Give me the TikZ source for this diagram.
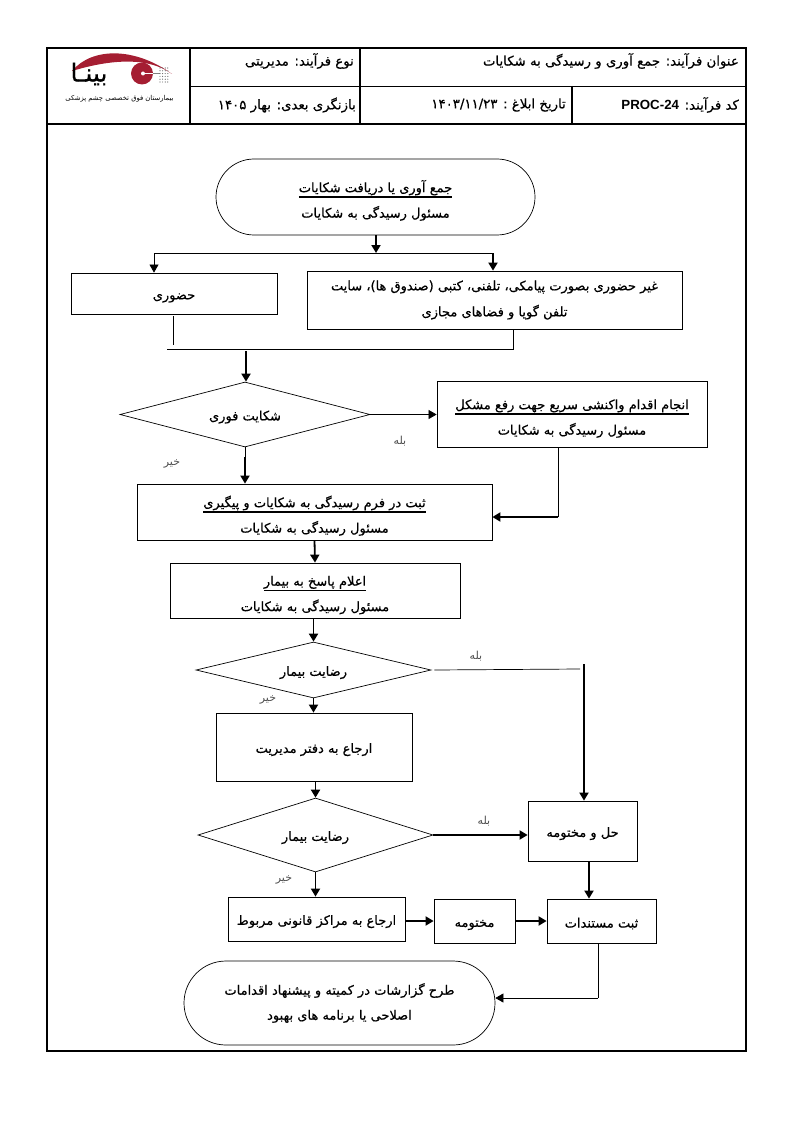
\documentclass[tikz,border=0pt]{standalone}
\usepackage{fontspec}
\usetikzlibrary{arrows.meta,shapes.geometric,shapes.misc}
\setmainfont{Liberation Sans}
\newfontfamily\arabicfont[Script=Arabic,FakeBold=0.5]{DejaVu Sans}
\newfontfamily\arabiclight[Script=Arabic]{DejaVu Sans}
\TeXXeTstate=1
\newcommand{\fa}[1]{{\arabicfont\beginR #1\endR}}
\newcommand{\falight}[1]{{\arabiclight\beginR #1\endR}}
\newcommand{\faul}[1]{\rule{0pt}{19pt}\vtop{\hbox{\fa{#1}}\kern1pt\hrule height 1.6pt}}
\definecolor{logored}{RGB}{165,30,50}
\begin{document}
\begin{tikzpicture}[x=1pt,y=-1pt,
  lowered/.style = {execute at begin node=\rule{0pt}{15pt}},
  cell/.style = {rectangle,draw,line width=.8pt,inner sep=0pt,align=center,lowered,font=\fontsize{13}{15}\selectfont},
  term/.style = {rounded rectangle,draw,line width=.7pt,inner sep=0pt,align=center,lowered,font=\fontsize{13}{15}\selectfont},
  test/.style = {diamond,aspect=4,draw,line width=.7pt,inner sep=0pt,lowered,font=\fontsize{13}{15}\selectfont},
  head/.style = {inner sep=0pt,font=\fontsize{13.3}{15}\selectfont},
  note/.style = {inner sep=0pt,font=\fontsize{11}{13}\selectfont,text=black!70},
  thin link/.style = {line width=.7pt},
  thin arrow/.style = {line width=.7pt,-{Triangle[length=8pt,width=9pt]}},
  thick arrow/.style = {line width=1.8pt,-{Triangle[length=8pt,width=9pt]}}]
\useasboundingbox (0,0) rectangle (794,1123);
% frame and header
\draw[line width=1.5pt] (47,48) rectangle (746,1051);
\draw[line width=1.5pt] (47,124) -- (746,124);
\draw[line width=.9pt] (190,86) -- (746,86);
\draw[line width=1.3pt] (190,48) -- (190,124);
\draw[line width=1.3pt] (360,48) -- (360,124);
\draw[line width=1.3pt] (572,86) -- (572,124);
\node[head,anchor=east] (title) at (739,61) {\fa{عنوان فرآیند: جمع آوری و رسیدگی به شکایات}};
\node[head,anchor=east] (kind) at (354,61) {\fa{نوع فرآیند: مدیریتی}};
\node[head,anchor=east] (review) at (356,105) {\fa{بازنگری بعدی: بهار ۱۴۰۵}};
\node[head,anchor=east] (issue) at (566,105) {\fa{تاریخ ابلاغ : \beginL ۱۴۰۳/۱۱/۲۳\endL}};
\node[head,anchor=east] (code) at (739,105) {\fa{کد فرآیند: \beginL\textbf{\rmfamily PROC-24}\endL}};
% logo
\fill[logored] (72,71) .. controls (92,47) and (135,47) .. (172,74) .. controls (150,58) and (115,58) .. (72,71) -- cycle;
\fill[logored] (142,73.5) circle (11);
\fill[white] (143,73.5) circle (2);
\draw[white,line width=.6pt] (143,73.5) -- (153,73.5);
\draw[black!50,line width=.4pt] (153,73.5) -- (160,73.5);
\foreach \i in {0,1,2,3} \foreach \j in {0,1,2,3,4,5} \fill[black!60] (160+2.6*\i,68+2.8*\j) circle (.6);
\node[inner sep=0pt,font=\fontsize{25}{25}\selectfont] (logoname) at (89,74) {\fa{بینـا}};
\node[inner sep=0pt,font=\fontsize{6.8}{8}\selectfont] (logotext) at (119.5,98.5) {\falight{بیمارستان فوق تخصصی چشم پزشکی}};
% flow
\node[term,minimum width=319pt,minimum height=76pt] (collect) at (375.5,197) {\faul{جمع آوری یا دریافت شکایات}\\[7pt]\fa{مسئول رسیدگی به شکایات}};
\node[cell,minimum width=206pt,minimum height=41pt] (present) at (174,293.5) {\fa{حضوری}};
\node[cell,minimum width=375pt,minimum height=58pt] (absent) at (494.5,300) {\fa{غیر حضوری بصورت پیامکی، تلفنی، کتبی (صندوق ها)، سایت}\\[11pt]\fa{تلفن گویا و فضاهای مجازی}};
\node[test,minimum width=250pt,minimum height=65pt] (urgent) at (245,414.5) {\fa{شکایت فوری}};
\node[cell,minimum width=270pt,minimum height=66pt] (quick) at (572,414) {\faul{انجام اقدام واکنشی سریع جهت رفع مشکل}\\[7pt]\fa{مسئول رسیدگی به شکایات}};
\node[cell,minimum width=355pt,minimum height=56pt] (form) at (314.5,512) {\faul{ثبت در فرم رسیدگی به شکایات و پیگیری}\\[7pt]\fa{مسئول رسیدگی به شکایات}};
\node[cell,minimum width=290pt,minimum height=55pt] (reply) at (315,590.5) {\faul{اعلام پاسخ به بیمار}\\[7pt]\fa{مسئول رسیدگی به شکایات}};
\node[test,minimum width=235pt,minimum height=56pt] (happy) at (313.5,670) {\fa{رضایت بیمار}};
\node[cell,minimum width=196pt,minimum height=68pt] (office) at (314,747) {\fa{ارجاع به دفتر مدیریت}};
\node[test,minimum width=235pt,minimum height=74pt] (happytwo) at (315.5,835) {\fa{رضایت بیمار}};
\node[cell,minimum width=109pt,minimum height=60pt] (solved) at (582.5,831) {\fa{حل و مختومه}};
\node[cell,minimum width=177pt,minimum height=44pt] (legal) at (316.5,919) {\fa{ارجاع به مراکز قانونی مربوط}};
\node[cell,minimum width=81pt,minimum height=44pt] (closed) at (474.5,921) {\fa{مختومه}};
\node[cell,minimum width=109pt,minimum height=44pt] (docs) at (601.5,921) {\fa{ثبت مستندات}};
\node[term,minimum width=311pt,minimum height=84pt] (report) at (339.5,1003) {\fa{طرح گزارشات در کمیته و پیشنهاد اقدامات}\\[10pt]\fa{اصلاحی یا برنامه های بهبود}};
% labels
\node[note] (yesa) at (400,441) {\falight{بله}};
\node[note] (noa) at (172,464) {\falight{خیر}};
\node[note] (yesb) at (476,656) {\falight{بله}};
\node[note] (nob) at (268,700) {\falight{خیر}};
\node[note] (yesc) at (484,821) {\falight{بله}};
\node[note] (noc) at (284,880) {\falight{خیر}};
% free ends of the links
\coordinate (split) at (376,253);
\coordinate (splitl) at (154,253);
\coordinate (splitr) at (493,253);
\coordinate (presentdown) at (173,316);
\coordinate (presentend) at (173,345);
\coordinate (mergel) at (167,349);
\coordinate (merger) at (513,349);
\coordinate (mergedown) at (246,351);
\coordinate (urgentmid) at (245,457);
\coordinate (quickturn) at (558,517);
\coordinate (yesturn) at (580,669);
\coordinate (yestop) at (584,664);
\coordinate (solveddown) at (589,861);
\coordinate (docsturn) at (598,998);
% links
\draw[thick arrow] (collect.south -| split) -- (split);
\draw[thin arrow] (split) -- (splitl) -- (splitl |- present.north);
\draw[thin link] (split) -- (splitr);
\draw[thick arrow] (splitr) -- (splitr |- absent.north);
\draw[thin link] (presentdown) -- (presentend);
\draw[thin link] (mergel) -- (merger) -- (merger |- absent.south);
\draw[thick arrow] (mergedown) -- (mergedown |- urgent.north);
\draw[thin arrow] (urgent.east) -- (quick.west |- urgent.east);
\draw[thin link] (urgent.south) -- (urgentmid);
\draw[thick arrow] (urgentmid) -- (urgentmid |- form.north);
\draw[thin link] (quickturn |- quick.south) -- (quickturn);
\draw[thick arrow] (quickturn) -- (quickturn -| form.east);
\draw[thick arrow] (form.south) -- (reply.north);
\draw[thick arrow] (reply.south -| happy.north) -- (happy.north);
\draw[thin link] ([xshift=3pt]happy.east) -- (yesturn);
\draw[thick arrow] (yestop) -- (yestop |- solved.north);
\draw[thick arrow] (happy.south) -- (office.north -| happy.south);
\draw[thick arrow] (office.south -| happytwo.north) -- (happytwo.north);
\draw[thick arrow] (happytwo.east) -- (solved.west |- happytwo.east);
\draw[thick arrow] (solveddown) -- (solveddown |- docs.north);
\draw[thick arrow] (happytwo.south) -- (happytwo.south |- legal.north);
\draw[thick arrow] (legal.east |- closed.west) -- (closed.west);
\draw[thick arrow] (closed.east) -- (docs.west);
\draw[thin link] (docsturn |- docs.south) -- (docsturn);
\draw[thin arrow] (docsturn) -- (docsturn -| report.east);
\end{tikzpicture}
\end{document}
